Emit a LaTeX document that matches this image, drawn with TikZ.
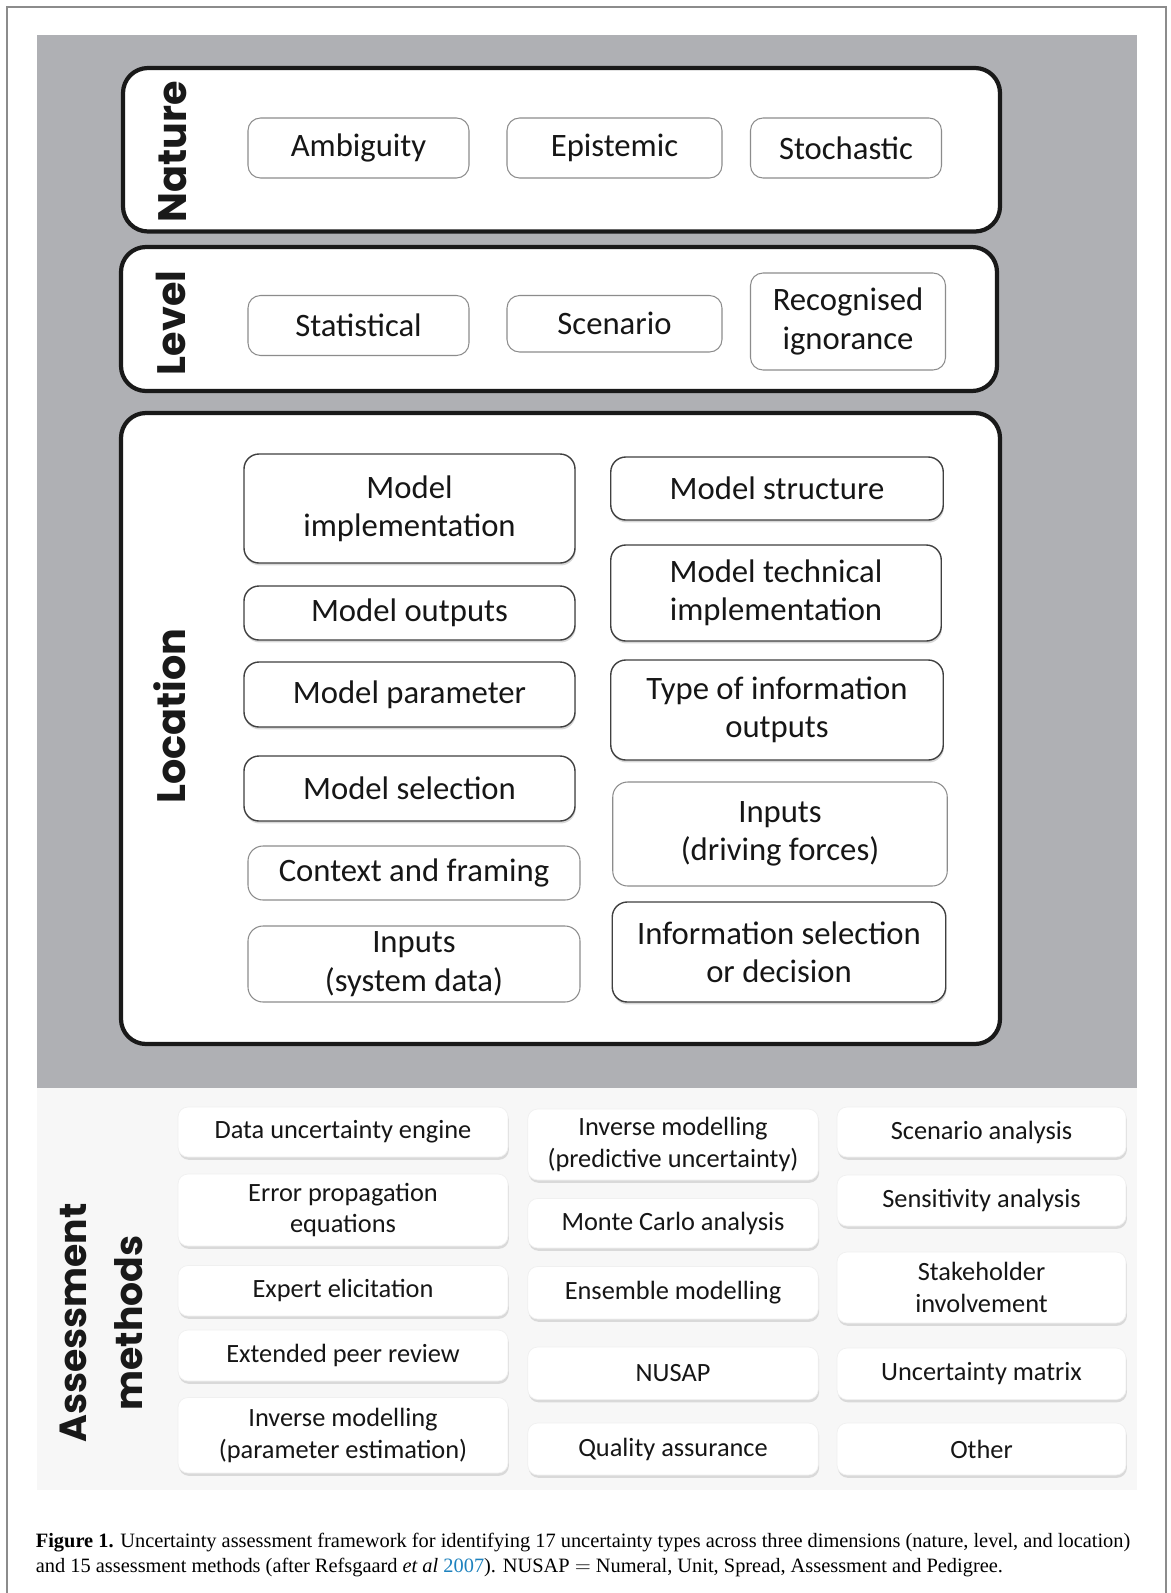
\documentclass[tikz,border=0pt]{standalone}
\usepackage{fontspec}
\setmainfont{Carlito}
\newfontfamily\headfont{Poppins}
\newfontfamily\capfont{Liberation Serif}
\usepackage{xcolor}
\usepackage{tikz}
\usetikzlibrary{shadows}

\definecolor{panelgrey}{RGB}{175,176,180}
\definecolor{txtgrey}{RGB}{22,22,22}
\definecolor{linkblue}{RGB}{30,130,190}

\tikzset{
	dimbox/.style={rounded corners=0.5cm,draw=black!90,line width=2.4pt,fill=white},
	dimlabel/.style={rotate=90,align=center,text=black!90,font=\headfont\bfseries\fontsize{22.6}{27}\selectfont},
	thinbox/.style={rounded corners=0.25cm,draw=black!45,line width=0.6pt,fill=white,text=txtgrey,align=center,inner sep=0pt,font=\fontsize{18.6}{21.8}\selectfont},
	locbox/.style={thinbox,draw=black!75,line width=0.8pt,rounded corners=0.3cm,drop shadow={shadow xshift=0.4pt,shadow yshift=-1.4pt,opacity=0.3}},
	lightbox/.style={thinbox,rounded corners=0.3cm},
	methbox/.style={rounded corners=0.2cm,draw=black!6,line width=0.4pt,fill=white,text=txtgrey,align=center,inner sep=0pt,font=\fontsize{15}{18}\selectfont,drop shadow={shadow xshift=0.5pt,shadow yshift=-1.6pt,opacity=0.25}},
}

\begin{document}
\begin{tikzpicture}
	\useasboundingbox (0,0) rectangle (23.42,-31.86);
	\fill[white] (0,0) rectangle (23.42,-31.86);
	\draw[black!45,line width=0.6pt] (0.14,-31.9) -- (0.14,-0.14) -- (23.32,-0.14) -- (23.32,-31.9);
	\fill[panelgrey] (0.73,-0.69) rectangle (22.73,-21.76);
	\fill[black!3] (0.73,-21.76) rectangle (22.73,-29.8);

	% nature
	\draw[dimbox] (2.46,-1.36) rectangle (20.0,-4.63);
	\node[dimlabel] (nat) at (3.45,-3.04) {Nature};
	\node[thinbox,minimum width=4.42cm,minimum height=1.2cm] (n1) at (7.17,-2.96) {Ambiguity};
	\node[thinbox,minimum width=4.30cm,minimum height=1.2cm] (n2) at (12.29,-2.96) {Epistemic};
	\node[thinbox,minimum width=3.82cm,minimum height=1.2cm] (n3) at (16.92,-2.96) {Stochastic};

	% level
	\draw[dimbox] (2.42,-4.94) rectangle (19.94,-7.82);
	\node[dimlabel] (lev) at (3.41,-6.46) {Level};
	\node[thinbox,minimum width=4.42cm,minimum height=1.2cm] (l1) at (7.17,-6.51) {Statistical};
	\node[thinbox,minimum width=4.30cm,minimum height=1.13cm] (l2) at (12.29,-6.475) {Scenario};
	\node[thinbox,minimum width=3.9cm,minimum height=1.94cm] (l3) at (16.96,-6.43) {Recognised\\ignorance};

	% location
	\draw[dimbox] (2.42,-8.26) rectangle (20.0,-20.88);
	\node[dimlabel] (loc) at (3.39,-14.32) {Location};
	\node[locbox,minimum width=6.62cm,minimum height=2.18cm] (a1) at (8.19,-10.17) {Model\\implementation};
	\node[locbox,minimum width=6.62cm,minimum height=1.08cm] (a2) at (8.19,-12.26) {Model outputs};
	\node[locbox,minimum width=6.62cm,minimum height=1.3cm] (a3) at (8.19,-13.89) {Model parameter};
	\node[locbox,minimum width=6.62cm,minimum height=1.3cm] (a4) at (8.19,-15.77) {Model selection};
	\node[lightbox,minimum width=6.64cm,minimum height=1.08cm] (a5) at (8.28,-17.46) {Context and framing};
	\node[lightbox,minimum width=6.64cm,minimum height=1.52cm] (a6) at (8.28,-19.28) {Inputs\\(system data)};
	\node[locbox,minimum width=6.65cm,minimum height=1.26cm] (b1) at (15.54,-9.77) {Model structure};
	\node[locbox,minimum width=6.61cm,minimum height=1.92cm] (b2) at (15.52,-11.86) {Model technical\\implementation};
	\node[locbox,minimum width=6.65cm,minimum height=2.0cm] (b3) at (15.54,-14.2) {Type of information\\outputs};
	\node[lightbox,minimum width=6.69cm,minimum height=2.08cm] (b4) at (15.6,-16.68) {Inputs\\(driving forces)};
	\node[locbox,minimum width=6.67cm,minimum height=2.0cm] (b5) at (15.58,-19.04) {Information selection\\or decision};

	% assessment methods
	\node[dimlabel,font=\headfont\bfseries\fontsize{21.5}{32}\selectfont] (ass) at (2.03,-26.46) {Assessment\\methods};
	\node[methbox,minimum width=6.6cm,minimum height=1.0cm] (m1) at (6.86,-22.64) {Data uncertainty engine};
	\node[methbox,minimum width=6.6cm,minimum height=1.44cm] (m2) at (6.86,-24.2) {Error propagation\\equations};
	\node[methbox,minimum width=6.6cm,minimum height=1.01cm] (m3) at (6.86,-25.815) {Expert elicitation};
	\node[methbox,minimum width=6.6cm,minimum height=1.02cm] (m4) at (6.86,-27.11) {Extended peer review};
	\node[methbox,minimum width=6.6cm,minimum height=1.51cm] (m5) at (6.86,-28.705) {Inverse modelling\\(parameter estimation)};
	\node[methbox,minimum width=5.81cm,minimum height=1.42cm] (m6) at (13.46,-22.89) {Inverse modelling\\(predictive uncertainty)};
	\node[methbox,minimum width=5.81cm,minimum height=0.99cm] (m7) at (13.46,-24.465) {Monte Carlo analysis};
	\node[methbox,minimum width=5.81cm,minimum height=1.05cm] (m8) at (13.46,-25.855) {Ensemble modelling};
	\node[methbox,minimum width=5.81cm,minimum height=1.05cm] (m9) at (13.46,-27.465) {NUSAP};
	\node[methbox,minimum width=5.81cm,minimum height=1.04cm] (m10) at (13.46,-28.98) {Quality assurance};
	\node[methbox,minimum width=5.78cm,minimum height=1.0cm] (m11) at (19.63,-22.64) {Scenario analysis};
	\node[methbox,minimum width=5.78cm,minimum height=1.02cm] (m12) at (19.63,-24.01) {Sensitivity analysis};
	\node[methbox,minimum width=5.78cm,minimum height=1.42cm] (m13) at (19.63,-25.75) {Stakeholder\\involvement};
	\node[methbox,minimum width=5.78cm,minimum height=1.03cm] (m14) at (19.63,-27.475) {Uncertainty matrix};
	\node[methbox,minimum width=5.78cm,minimum height=1.04cm] (m15) at (19.63,-28.98) {Other};

	% caption
	\node[anchor=west,align=left,inner sep=0pt,font=\capfont\fontsize{11.6}{13.8}\selectfont] (cap) at (0.71,-31.1) {\textbf{Figure 1.} Uncertainty assessment framework for identifying 17 uncertainty types across three dimensions (nature, level, and location)\\and 15 assessment methods (after Refsgaard \textit{et al} \textcolor{linkblue}{2007}). NUSAP $=$ Numeral, Unit, Spread, Assessment and Pedigree.};
\end{tikzpicture}
\end{document}
